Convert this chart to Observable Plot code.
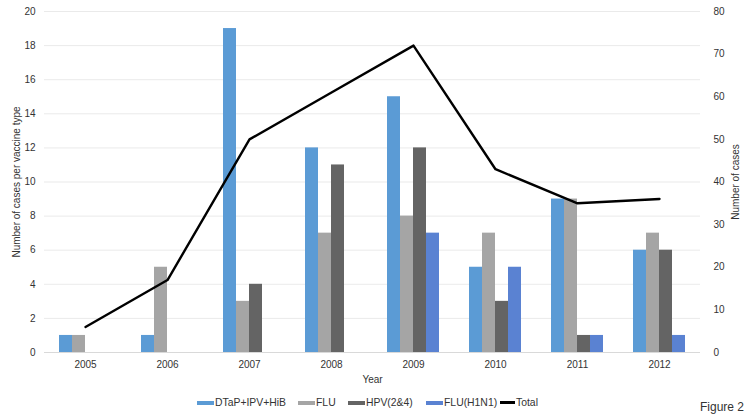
<!DOCTYPE html>
<html>
<head>
<meta charset="utf-8">
<script src="https://cdn.jsdelivr.net/npm/d3@7"></script>
<script src="https://cdn.jsdelivr.net/npm/@observablehq/plot@0.6"></script>
<style>
  body { margin: 0; background: #fff; font-family: "Liberation Sans", Arial, sans-serif; }
  #wrap { position: relative; width: 748px; height: 420px; }
  #wrap svg { position: absolute; left: 0; top: 0; overflow: visible; }
  #legend { position: absolute; left: 0; top: 394px; width: 748px; height: 20px; font-size: 10.4px; color: #333; }
  .item { position: absolute; top: 3px; display: flex; align-items: center; white-space: nowrap; }
  .sw { display: inline-block; width: 17px; height: 4px; margin-right: 1px; }
  #fig { position: absolute; left: 700px; top: 400px; font-size: 12px; color: #333; }
</style>
</head>
<body>
<div id="wrap"></div>
<script>
const years = ["2005","2006","2007","2008","2009","2010","2011","2012"];
const seriesNames = ["DTaP+IPV+HiB","FLU","HPV(2&4)","FLU(H1N1)"];
const dtap = [1, 1, 19, 12, 15, 5, 9, 6];
const flu  = [1, 5, 3, 7, 8, 7, 9, 7];
const hpv  = [0, 0, 4, 11, 12, 3, 1, 6];
const h1n1 = [0, 0, 0, 0, 7, 5, 1, 1];
const total = [6, 17, 50, 61, 72, 43, 35, 36];
const colors = ["#5b9bd5", "#a5a5a5", "#646464", "#5a82d2"];
const leftTicks = [0,2,4,6,8,10,12,14,16,18,20];
const rightTicks = [0,10,20,30,40,50,60,70,80];

const seriesValues = [dtap, flu, hpv, h1n1];
const rows = [];
years.forEach((y, i) => seriesNames.forEach((s, j) => rows.push({year: y, series: s, value: seriesValues[j][i]})));
const totals = years.map((y, i) => ({year: y, total: total[i]}));

const W = 748, H = 390;
const mL = 40, mR = 45, mT = 11, mB = 38;
const font = "10px 'Liberation Sans', Arial, sans-serif";

const bars = Plot.plot({
  width: W, height: H,
  marginLeft: mL, marginRight: mR, marginTop: mT, marginBottom: mB,
  style: {font, color: "#333", background: "transparent"},
  facet: {data: rows, x: "year"},
  fx: {domain: years, padding: 0, tickSize: 0, tickPadding: 8, label: "Year", labelAnchor: "center", labelOffset: 30},
  x: {domain: seriesNames, paddingInner: 0, paddingOuter: 0.99, align: 0.5, axis: null},
  y: {domain: [0, 20], ticks: leftTicks, tickSize: 0, tickPadding: 9, grid: true,
      label: "Number of cases per vaccine type", labelArrow: "none", labelAnchor: "center", labelOffset: 32},
  color: {domain: seriesNames, range: colors},
  marks: [
    Plot.ruleY([0], {stroke: "#d9d9d9"}),
    Plot.barY(rows, {x: "series", y: "value", fill: "series"})
  ]
});

const line = Plot.plot({
  width: W, height: H,
  marginLeft: mL, marginRight: mR, marginTop: mT, marginBottom: mB,
  style: {font, color: "#333", background: "transparent"},
  x: {type: "point", domain: years, padding: 0.5, axis: null},
  y: {domain: [0, 80], ticks: rightTicks, axis: "right", tickSize: 0, tickPadding: 10,
      label: "Number of cases", labelArrow: "none", labelAnchor: "center", labelOffset: 35, grid: false},
  marks: [
    Plot.line(totals, {x: "year", y: "total", stroke: "#000", strokeWidth: 2.4})
  ]
});

const wrap = document.getElementById("wrap");
wrap.appendChild(bars);
wrap.appendChild(line);

const legend = document.createElement("div");
legend.id = "legend";
const items = [
  {name: seriesNames[0], color: colors[0], left: 197, line: false},
  {name: seriesNames[1], color: colors[1], left: 298, line: false},
  {name: seriesNames[2], color: colors[2], left: 348, line: false},
  {name: seriesNames[3], color: colors[3], left: 426, line: false},
  {name: "Total", color: "#000", left: 500, line: true}
];
items.forEach(it => {
  const d = document.createElement("div");
  d.className = "item";
  d.style.left = it.left + "px";
  const sw = document.createElement("span");
  sw.className = "sw";
  sw.style.background = it.color;
  if (it.line) { sw.style.height = "2.5px"; sw.style.width = "15px"; }
  d.appendChild(sw);
  const t = document.createElement("span");
  t.textContent = it.name;
  d.appendChild(t);
  legend.appendChild(d);
});
wrap.appendChild(legend);
const fig = document.createElement("div");
fig.id = "fig";
fig.textContent = "Figure 2";
wrap.appendChild(fig);
</script>
</body>
</html>
